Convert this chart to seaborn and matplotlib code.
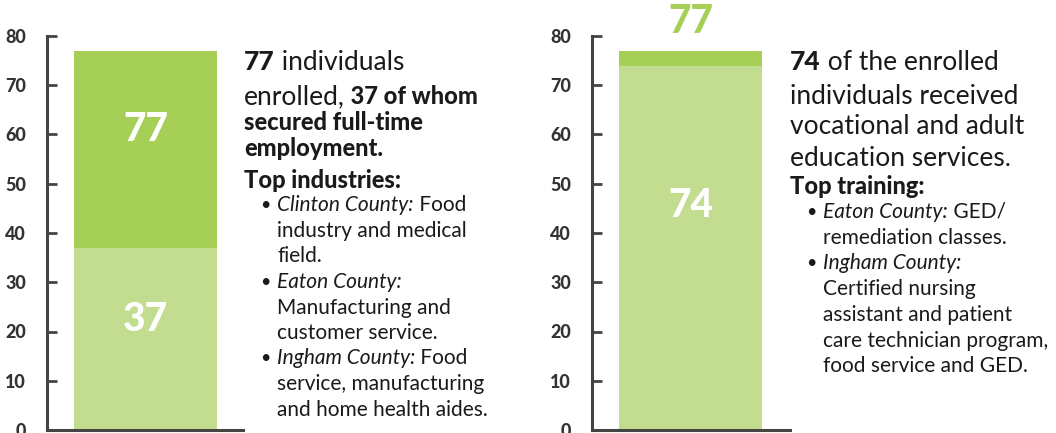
import matplotlib
matplotlib.use("Agg")
import matplotlib.pyplot as plt
import seaborn as sns
from matplotlib.transforms import IdentityTransform

# data
category = ["Enrolled"]
enrolled_total = [77]
employed_full_time = [37]
training_total = [77]
received_training = [74]
y_ticks = [0, 10, 20, 30, 40, 50, 60, 70, 80]

DARK = "#a6cf57"
LIGHT = "#c3dd90"
AXIS = "#444444"
TEXT = "#1a1a1a"
W, H = 1056, 433

sns.set_theme(style="white")
plt.rcParams["font.family"] = ["Lato", "DejaVu Sans"]

fig = plt.figure(figsize=(W / 100, H / 100), dpi=100)


def style_axes(ax, x0, x1, bar_x0):
    # axis spans x0..x1 (pixels), bar of width 0.8 starts at bar_x0
    ppu = 143 / 0.8
    ax.set_xlim(-0.4 - (bar_x0 - x0) / ppu, -0.4 + (x1 - bar_x0) / ppu)
    ax.set_ylim(0, 80)
    ax.set_yticks(y_ticks)
    ax.set_yticklabels([str(v) for v in y_ticks], fontsize=13, fontweight="black", color="#333333")
    ax.tick_params(axis="y", direction="in", length=7, width=2, color=AXIS, pad=15, left=True)
    ax.tick_params(axis="x", bottom=False, labelbottom=False)
    for s in ["top", "right"]:
        ax.spines[s].set_visible(False)
    for s in ["left", "bottom"]:
        ax.spines[s].set_color(AXIS)
        ax.spines[s].set_linewidth(2.2)
    ax.set_xlabel("")
    ax.set_ylabel("")
    ax.patch.set_alpha(0)


bar_kw = dict(saturation=1, width=0.8, linewidth=0, edgecolor="none")

# left chart
ax1 = fig.add_axes([47 / W, 3 / H, 196 / W, 394 / H])
sns.barplot(x=category, y=enrolled_total, color=DARK, ax=ax1, **bar_kw)
sns.barplot(x=category, y=employed_full_time, color=LIGHT, ax=ax1, **bar_kw)
style_axes(ax1, 47, 243, 74)
ax1.text(0, 61, str(enrolled_total[0]), ha="center", va="center", color="white",
         fontsize=28, fontweight="black")
ax1.text(0, 22.5, str(employed_full_time[0]), ha="center", va="center", color="white",
         fontsize=28, fontweight="black")

# right chart
ax2 = fig.add_axes([592 / W, 3 / H, 198 / W, 394 / H])
sns.barplot(x=category, y=training_total, color=DARK, ax=ax2, **bar_kw)
sns.barplot(x=category, y=received_training, color=LIGHT, ax=ax2, **bar_kw)
style_axes(ax2, 592, 790, 619)
ax2.text(0, 45.5, str(received_training[0]), ha="center", va="center", color="white",
         fontsize=28, fontweight="black")
ax2.text(0, 83, str(training_total[0]), ha="center", va="center", color=DARK,
         fontsize=28, fontweight="black", clip_on=False)

fig.canvas.draw()
renderer = fig.canvas.get_renderer()


def rich_line(x, y, parts):
    # parts: list of (text, size, weight, style)
    for txt, size, weight, style in parts:
        t = fig.text(x, H - y, txt, transform=IdentityTransform(), fontsize=size,
                     fontweight=weight, fontstyle=style, color=TEXT, va="center", ha="left")
        x = t.get_window_extent(renderer).x1


BIG, MID, SMALL = 19, 17, 15

left_lines = [
    (244, 62, [("77", BIG, "black", "normal"), (" individuals", BIG, "normal", "normal")]),
    (244, 97, [("enrolled,", BIG, "normal", "normal"), (" 37 of whom", MID, "black", "normal")]),
    (244, 122, [("secured full-time", MID, "black", "normal")]),
    (244, 148, [("employment.", MID, "black", "normal")]),
    (244, 180, [("Top industries:", MID, "black", "normal")]),
    (277, 205, [("Clinton County:", SMALL, "normal", "italic"), (" Food", SMALL, "normal", "normal")]),
    (277, 231, [("industry and medical", SMALL, "normal", "normal")]),
    (277, 256, [("field.", SMALL, "normal", "normal")]),
    (277, 282, [("Eaton County:", SMALL, "normal", "italic")]),
    (277, 308, [("Manufacturing and", SMALL, "normal", "normal")]),
    (277, 333, [("customer service.", SMALL, "normal", "normal")]),
    (277, 358, [("Ingham County:", SMALL, "normal", "italic"), (" Food", SMALL, "normal", "normal")]),
    (277, 384, [("service, manufacturing", SMALL, "normal", "normal")]),
    (277, 410, [("and home health aides.", SMALL, "normal", "normal")]),
]
right_lines = [
    (790, 62, [("74", BIG, "black", "normal"), (" of the enrolled", BIG, "normal", "normal")]),
    (790, 96, [("individuals received", BIG, "normal", "normal")]),
    (790, 127, [("vocational and adult", BIG, "normal", "normal")]),
    (790, 158, [("education services.", BIG, "normal", "normal")]),
    (790, 186, [("Top training:", MID, "black", "normal")]),
    (823, 212, [("Eaton County:", SMALL, "normal", "italic"), (" GED/", SMALL, "normal", "normal")]),
    (823, 238, [("remediation classes.", SMALL, "normal", "normal")]),
    (823, 263, [("Ingham County:", SMALL, "normal", "italic")]),
    (823, 289, [("Certified nursing", SMALL, "normal", "normal")]),
    (823, 315, [("assistant and patient", SMALL, "normal", "normal")]),
    (823, 341, [("care technician program,", SMALL, "normal", "normal")]),
    (823, 366, [("food service and GED.", SMALL, "normal", "normal")]),
]
for x, y, parts in left_lines + right_lines:
    rich_line(x, y, parts)

for bx, by in [(265, 205), (265, 282), (265, 358), (811, 212), (811, 263)]:
    fig.text(bx, H - by, "\u2022", transform=IdentityTransform(), fontsize=SMALL - 2,
             color=TEXT, va="center", ha="center")

fig.savefig("out.png", dpi=100)
